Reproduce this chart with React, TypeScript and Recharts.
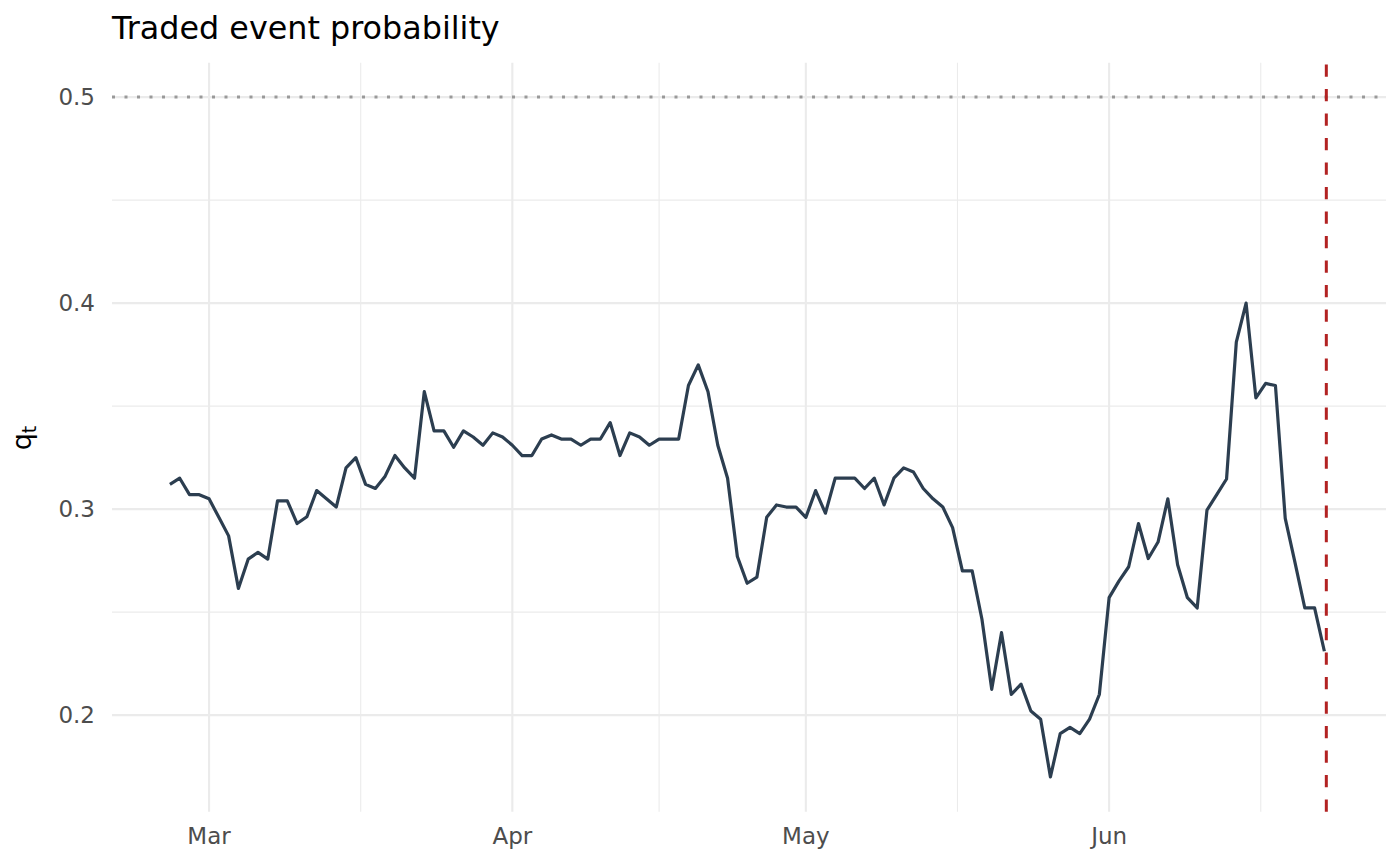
import { LineChart, Line, XAxis, YAxis, ReferenceLine } from 'recharts';

// day offsets relative to Mar 1; series starts 4 days earlier
const startDay = -4;
const qt = [
  0.312, 0.315, 0.307, 0.307, 0.305,
  0.296, 0.287, 0.2615, 0.2757, 0.279, 0.2757, 0.304, 0.304, 0.293, 0.2963,
  0.309, 0.305, 0.301, 0.32, 0.325, 0.312, 0.31, 0.316, 0.326, 0.32,
  0.315, 0.357, 0.338, 0.338, 0.33, 0.338, 0.335, 0.331, 0.337, 0.335,
  0.331, 0.326, 0.326, 0.334, 0.336, 0.334, 0.334, 0.331, 0.334, 0.334,
  0.342, 0.326, 0.337, 0.335, 0.331, 0.334, 0.334, 0.334, 0.36, 0.37,
  0.357, 0.331, 0.315, 0.277, 0.264, 0.267, 0.296, 0.302, 0.301, 0.301,
  0.296, 0.309, 0.298, 0.315, 0.315, 0.315, 0.31, 0.315, 0.302, 0.315,
  0.32, 0.318, 0.31, 0.305, 0.301, 0.291, 0.27, 0.27, 0.2465, 0.2125,
  0.24, 0.21, 0.215, 0.202, 0.198, 0.17, 0.191, 0.194, 0.191, 0.198,
  0.21, 0.257, 0.265, 0.272, 0.293, 0.276, 0.284, 0.305, 0.273, 0.257,
  0.252, 0.2995, 0.307, 0.3146, 0.381, 0.4, 0.354, 0.361, 0.36, 0.2955,
  0.274, 0.252, 0.252, 0.231,
];

const monthTicks = [0, 31, 61, 92];
const monthLabels = ['Mar', 'Apr', 'May', 'Jun'];
const minorX = [15.5, 46, 76.5, 107.5];
const yTicks = [0.2, 0.3, 0.4, 0.5];
const minorY = [0.25, 0.35, 0.45];
const threshold = 0.5;
const cutoffDay = 114.2;

const data = qt.map((v, i) => ({ day: startDay + i, q: v }));

const font = '"DejaVu Sans", sans-serif';
const tickStyle = { fill: '#4d4d4d', fontSize: 23, fontFamily: font };
const grid = '#ebebeb';

export default function App() {
  return (
    <div style={{ position: 'absolute', left: 0, top: 0, width: 1400, height: 866, background: '#fff' }}>
      <LineChart width={1400} height={866} data={data} margin={{ top: 62.7, right: 14, bottom: 0, left: 12 }}>
        {minorX.map((x) => (
          <ReferenceLine key={'mx' + x} x={x} stroke={grid} strokeWidth={1.1} />
        ))}
        {minorY.map((y) => (
          <ReferenceLine key={'my' + y} y={y} stroke={grid} strokeWidth={1.1} />
        ))}
        {monthTicks.map((x) => (
          <ReferenceLine key={'gx' + x} x={x} stroke={grid} strokeWidth={2.1} />
        ))}
        {yTicks.map((y) => (
          <ReferenceLine key={'gy' + y} y={y} stroke={grid} strokeWidth={2.1} />
        ))}
        <XAxis
          dataKey="day"
          type="number"
          domain={[-9.92, 120.3]}
          allowDataOverflow
          ticks={monthTicks}
          tickFormatter={(v) => monthLabels[monthTicks.indexOf(v)] ?? ''}
          axisLine={false}
          tickLine={false}
          tickMargin={10}
          height={54.3}
          tick={tickStyle}
        />
        <YAxis
          type="number"
          domain={[0.1531, 0.5167]}
          allowDataOverflow
          ticks={yTicks}
          tickFormatter={(v) => v.toFixed(1)}
          axisLine={false}
          tickLine={false}
          tickMargin={11}
          width={100}
          tick={tickStyle}
        />
        <ReferenceLine y={threshold} stroke="#999999" strokeWidth={3} strokeDasharray="3 9.5" />
        <Line
          type="linear"
          dataKey="q"
          stroke="#2c3e50"
          strokeWidth={3.2}
          strokeLinejoin="round"
          dot={false}
          isAnimationActive={false}
        />
        <ReferenceLine x={cutoffDay} stroke="#b22222" strokeWidth={3} strokeDasharray="12.3 12.2" />
      </LineChart>
      <svg width={1400} height={866} style={{ position: 'absolute', left: 0, top: 0, pointerEvents: 'none' }}>
        <text x={112} y={39.3} fontSize={31.8} fontFamily={font} fill="#000">
          Traded event probability
        </text>
        <text transform="translate(30.5 438) rotate(-90)" textAnchor="middle" fontFamily={font} fill="#000">
          <tspan fontSize={27}>q</tspan>
          <tspan fontSize={19} dy={5}>t</tspan>
        </text>
      </svg>
    </div>
  );
}
